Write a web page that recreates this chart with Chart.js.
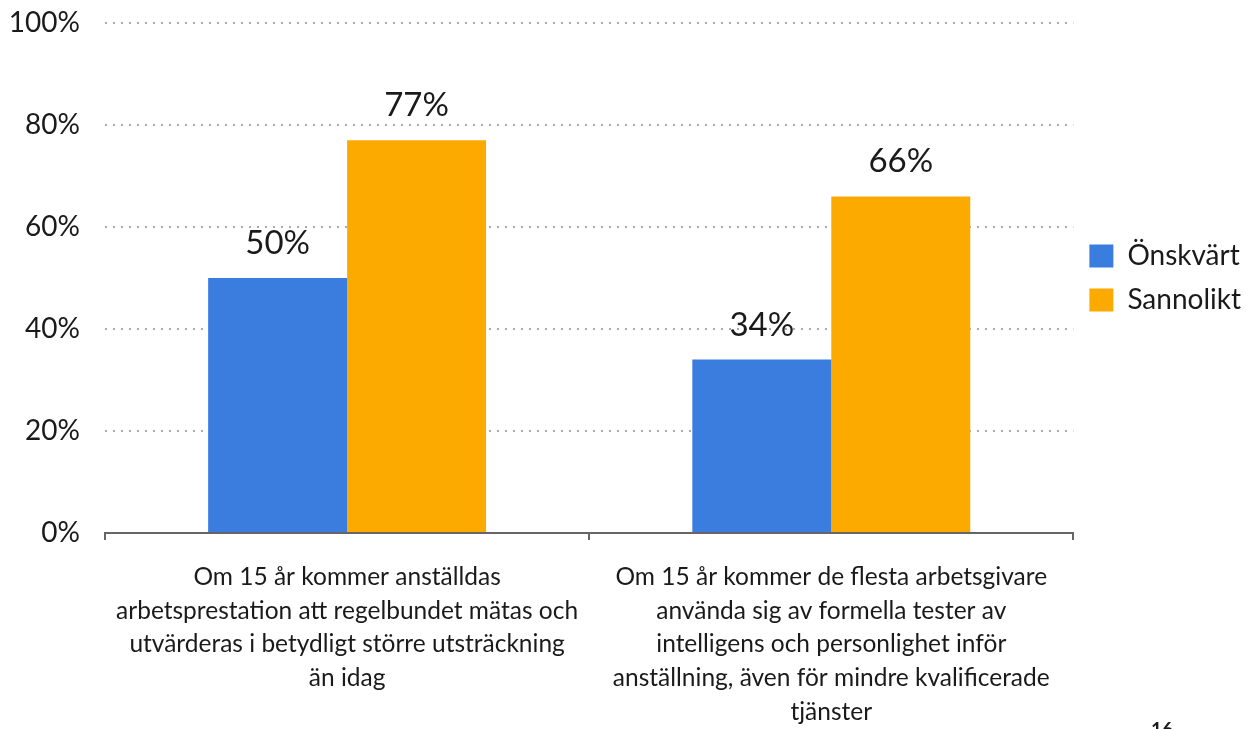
<!DOCTYPE html>
<html>
<head>
<meta charset="utf-8">
<script src="https://cdn.jsdelivr.net/npm/chart.js@4"></script>
<style>
html,body{margin:0;padding:0;background:#fff;}
#wrap{width:1251px;height:729px;position:relative;}
</style>
</head>
<body>
<div id="wrap"><canvas id="c" width="1251" height="729"></canvas></div>
<script>
const categories = [
  ["Om 15 år kommer anställdas", "arbetsprestation att regelbundet mätas och", "utvärderas i betydligt större utsträckning", "än idag"],
  ["Om 15 år kommer de flesta arbetsgivare", "använda sig av formella tester av", "intelligens och personlighet inför", "anställning, även för mindre kvalificerade", "tjänster"]
];
const seriesNames = ["Önskvärt", "Sannolikt"];
const onskvart = [50, 34];
const sannolikt = [77, 66];
const yTicks = [0, 20, 40, 60, 80, 100];
const pageNumber = "16";

const FONT = "Lato, 'Noto Sans', sans-serif";

const valueLabels = {
  id: 'valueLabels',
  afterLayout(chart) {
    const l = chart.legend;
    if (l) {
      l.top = chart.chartArea.top;
      l.bottom = chart.chartArea.bottom;
      l.height = l.bottom - l.top;
    }
  },
  afterDatasetsDraw(chart) {
    const ctx = chart.ctx;
    ctx.save();
    ctx.font = "33px " + FONT;
    ctx.fillStyle = "#1a1a1a";
    ctx.textAlign = "center";
    ctx.textBaseline = "alphabetic";
    chart.data.datasets.forEach((ds, i) => {
      chart.getDatasetMeta(i).data.forEach((bar, j) => {
        ctx.fillText(ds.data[j] + "%", bar.x, bar.y - 24);
      });
    });
    ctx.font = "bold 19px " + FONT;
    ctx.textBaseline = "top";
    ctx.fillText(pageNumber, 1162, 720);
    ctx.restore();
  }
};

new Chart(document.getElementById('c'), {
  type: 'bar',
  data: {
    labels: categories,
    datasets: [
      { label: seriesNames[0], data: onskvart, backgroundColor: '#3b7ddf', categoryPercentage: 0.574, barPercentage: 1.0 },
      { label: seriesNames[1], data: sannolikt, backgroundColor: '#fdaa00', categoryPercentage: 0.574, barPercentage: 1.0 }
    ]
  },
  options: {
    responsive: false,
    animation: false,
    layout: { padding: { top: 23, left: 0, right: 0, bottom: 0 } },
    plugins: {
      legend: {
        position: 'right',
        align: 'center',
        labels: {
          font: { size: 28, family: FONT },
          color: '#1a1a1a',
          boxWidth: 24,
          boxHeight: 23,
          padding: 16
        }
      },
      tooltip: { enabled: false }
    },
    scales: {
      x: {
        offset: true,
        grid: { display: true, drawOnChartArea: false, drawTicks: true, tickLength: 7, color: '#666', lineWidth: 2, offset: true },
        border: { display: true, color: '#666', width: 2 },
        ticks: { font: { size: 24.5, family: FONT, lineHeight: 1.38 }, color: '#1a1a1a', padding: 20, maxRotation: 0, autoSkip: false },
        afterFit(scale) { scale.height = 196; }
      },
      y: {
        min: 0, max: 100,
        afterBuildTicks(scale) { scale.ticks = yTicks.map(v => ({ value: v })); },
        grid: { color: ctx => ctx.tick && ctx.tick.value === 0 ? 'rgba(0,0,0,0)' : '#aaa', lineWidth: 2, drawTicks: false },
        border: { display: false, dash: [2, 6] },
        ticks: { font: { size: 28, family: FONT }, color: '#1a1a1a', padding: 25, callback: v => v + '%' },
        afterFit(scale) { scale.width = 105; scale.paddingTop = 0; scale.paddingBottom = 0; }
      }
    }
  },
  plugins: [valueLabels]
});
</script>
</body>
</html>
